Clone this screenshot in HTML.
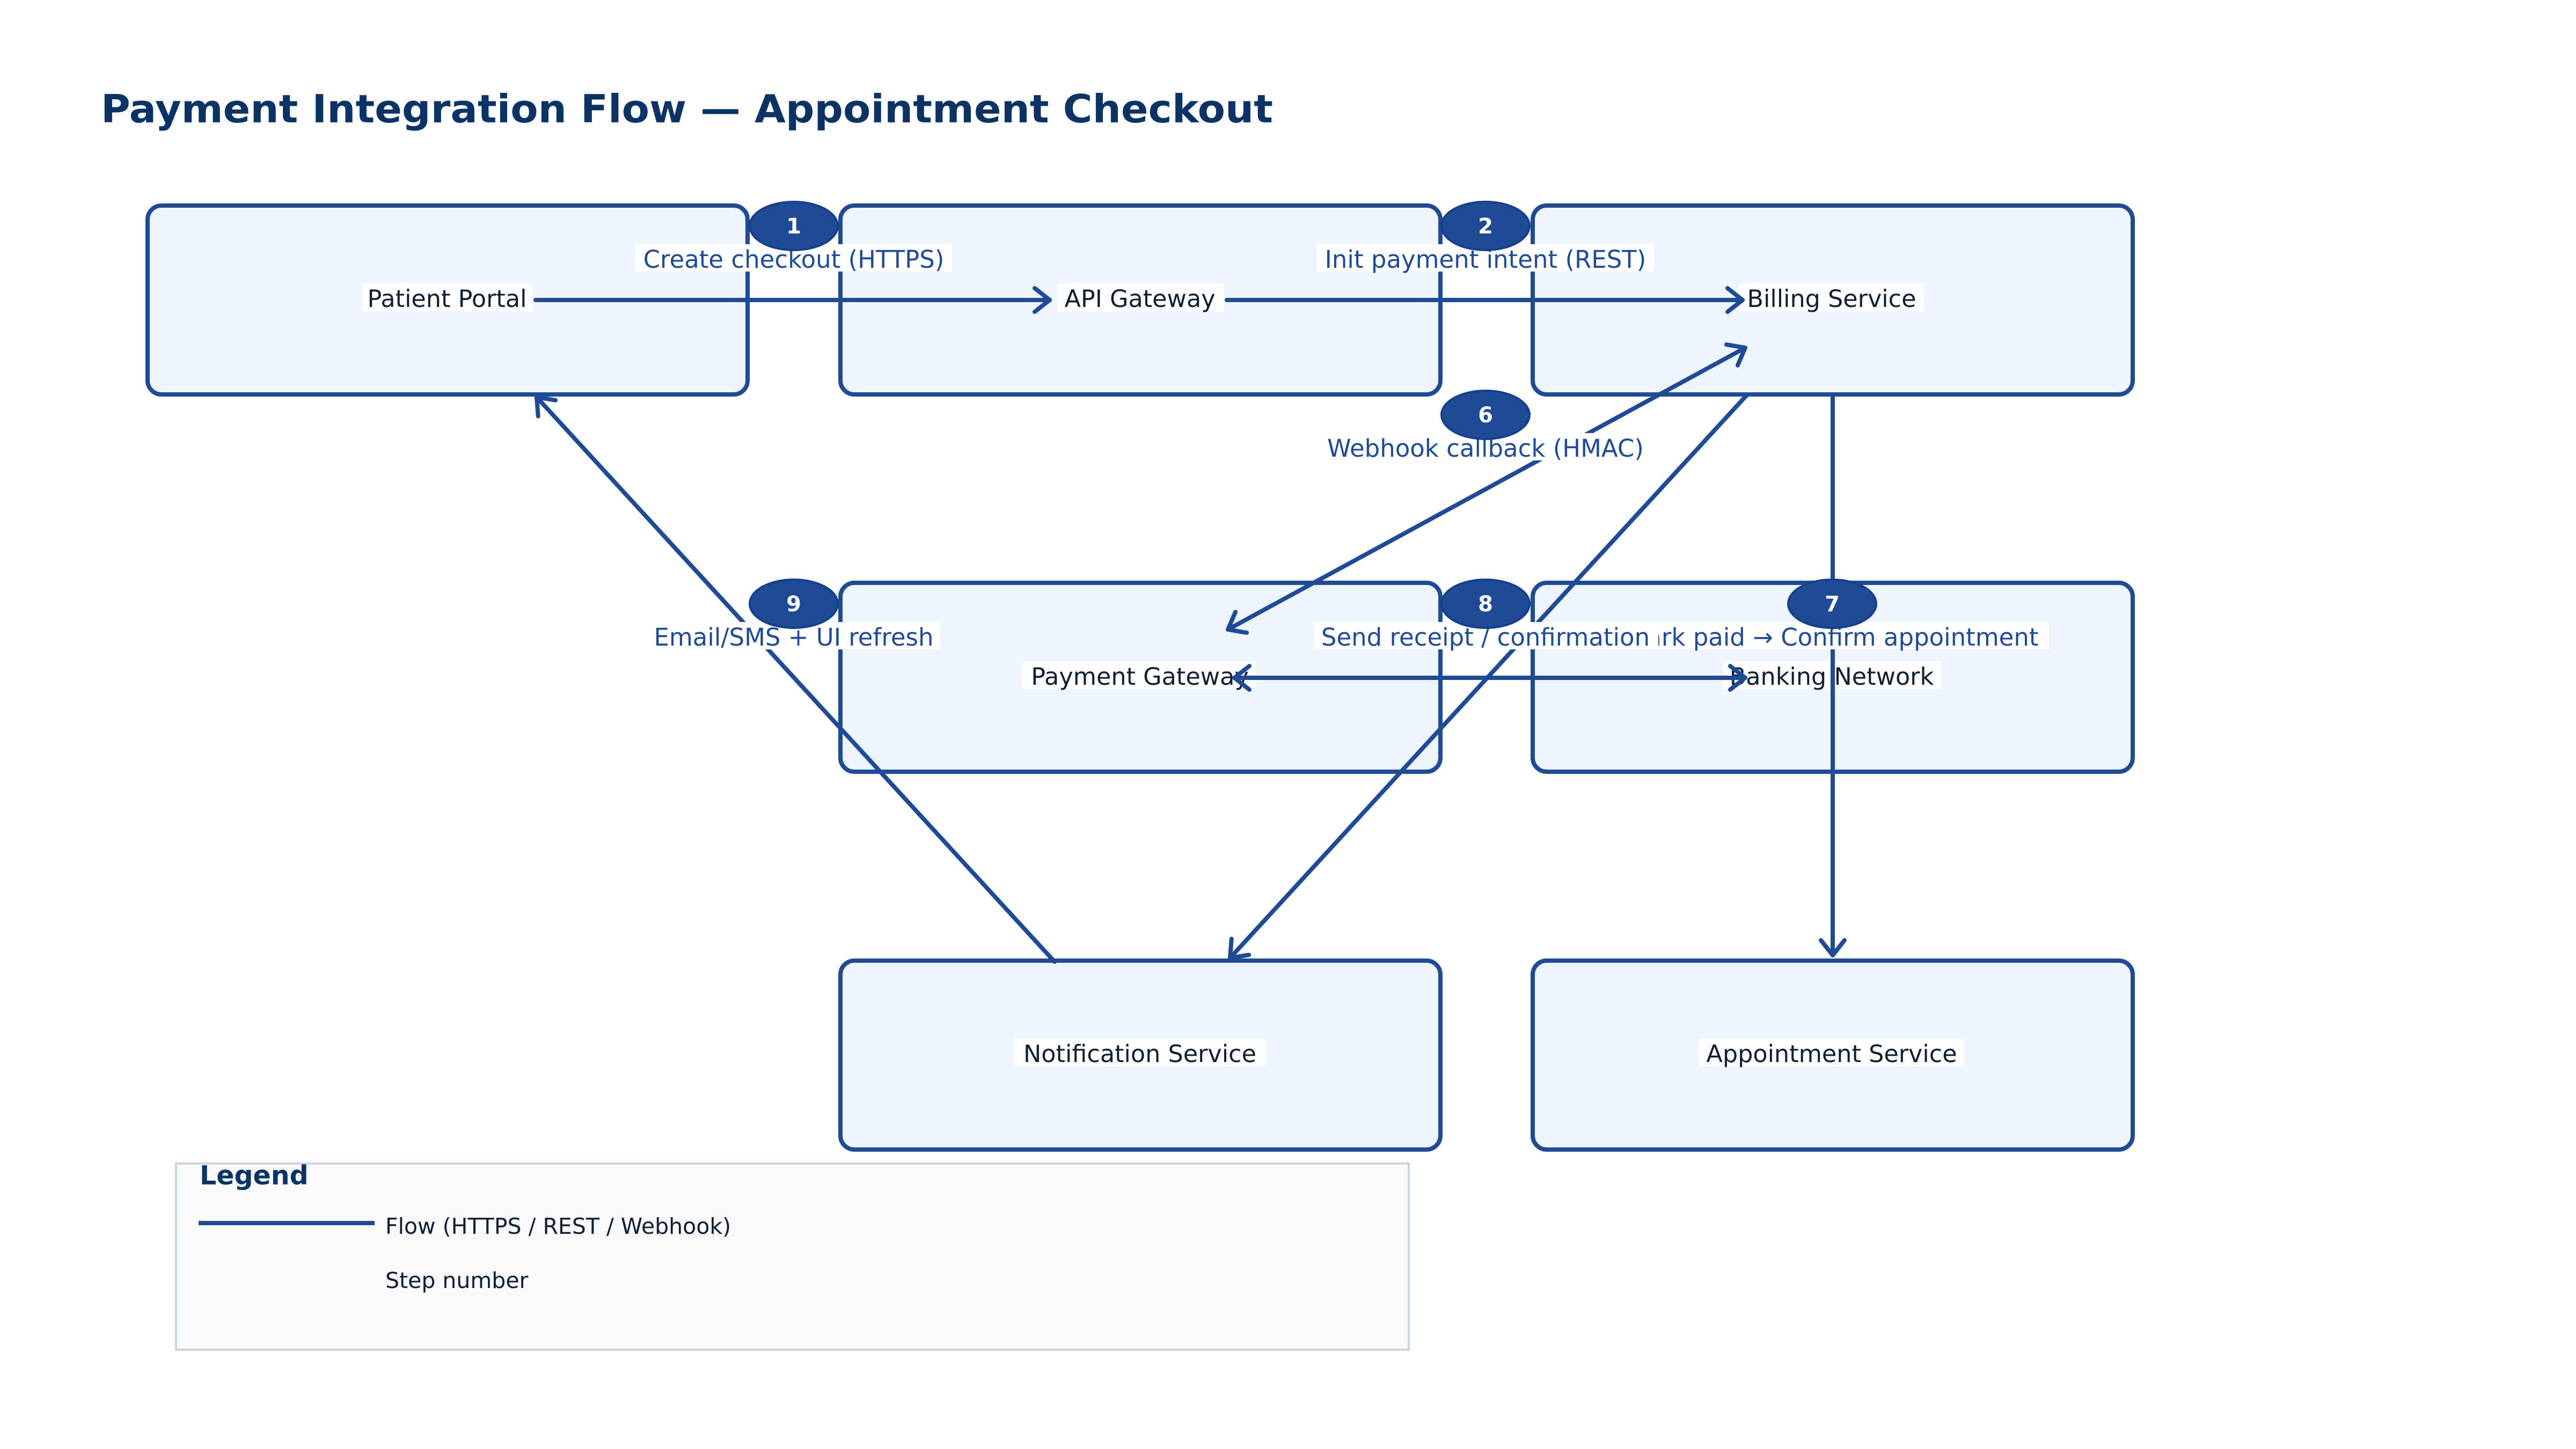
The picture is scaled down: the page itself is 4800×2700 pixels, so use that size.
<!DOCTYPE html>
<html><head><meta charset="utf-8"><style>
html,body{margin:0;padding:0;background:#fff}
svg{display:block}
text{font-family:"DejaVu Sans","Liberation Sans",sans-serif}
</style></head><body>
<svg width="4800" height="2700" viewBox="0 0 4800 2700" xmlns="http://www.w3.org/2000/svg">
<defs>
<marker id="ah" markerUnits="userSpaceOnUse" markerWidth="80" markerHeight="80" refX="40" refY="40" orient="auto">
<path d="M12,18 L40,40 L12,62" fill="none" stroke="#1f4a96" stroke-width="8" stroke-linecap="round" stroke-linejoin="round"/>
</marker>
<marker id="as" markerUnits="userSpaceOnUse" markerWidth="80" markerHeight="80" refX="40" refY="40" orient="auto-start-reverse">
<path d="M12,18 L40,40 L12,62" fill="none" stroke="#1f4a96" stroke-width="8" stroke-linecap="round" stroke-linejoin="round"/>
</marker>
</defs>
<rect width="4800" height="2700" fill="#fff"/>
<text x="188" y="228" font-size="72" font-weight="bold" fill="#0b3366" textLength="2184" lengthAdjust="spacingAndGlyphs">Payment Integration Flow — Appointment Checkout</text>

<g fill="#eef5fe" stroke="#1f4a96" stroke-width="8">
<rect x="275" y="383" width="1118" height="352" rx="26"/>
<rect x="1566" y="383" width="1118" height="352" rx="26"/>
<rect x="2856" y="383" width="1118" height="352" rx="26"/>
<rect x="1566" y="1086" width="1118" height="352" rx="26"/>
<rect x="2856" y="1086" width="1118" height="352" rx="26"/>
<rect x="1566" y="1790" width="1118" height="352" rx="26"/>
<rect x="2856" y="1790" width="1118" height="352" rx="26"/>
</g>

<g font-size="44.5" fill="#0f1f33" text-anchor="middle">
<rect x="675" y="528" width="318" height="52" fill="#fff"/>
<text x="833" y="572">Patient Portal</text>
<rect x="1970" y="528" width="310" height="52" fill="#fff"/>
<text x="2124" y="572">API Gateway</text>
<rect x="3240" y="528" width="345" height="52" fill="#fff"/>
<text x="3413" y="572">Billing Service</text>
<rect x="1905" y="1232" width="435" height="52" fill="#fff"/>
<text x="2124" y="1276">Payment Gateway</text>
<rect x="3210" y="1232" width="408" height="52" fill="#fff"/>
<text x="3413" y="1276">Banking Network</text>
<rect x="1890" y="1935" width="470" height="52" fill="#fff"/>
<text x="2124" y="1979">Notification Service</text>
<rect x="3165" y="1935" width="495" height="52" fill="#fff"/>
<text x="3413" y="1979">Appointment Service</text>
</g>

<g stroke="#1f4a96" stroke-width="8" fill="none" stroke-linecap="round">
<line x1="998" y1="559" x2="1956" y2="559" marker-end="url(#ah)"/>
<line x1="2286" y1="559" x2="3247" y2="559" marker-end="url(#ah)"/>
<line x1="2288" y1="1173" x2="3252" y2="648" marker-start="url(#as)" marker-end="url(#as)"/>
<line x1="3256" y1="735" x2="2292" y2="1785" marker-end="url(#ah)"/>
<line x1="2300" y1="1263" x2="3252" y2="1263" marker-start="url(#as)" marker-end="url(#as)"/>
<line x1="3415" y1="738" x2="3415" y2="1780" marker-end="url(#ah)"/>
<line x1="1965" y1="1792" x2="1000" y2="740" marker-end="url(#ah)"/>
</g>

<g font-size="45" fill="#1f4a96" text-anchor="middle">
<rect x="1184" y="455" width="590" height="51" fill="#fff"/>
<text x="1479" y="499">Create checkout (HTTPS)</text>
<rect x="2454" y="455" width="628" height="51" fill="#fff"/>
<text x="2768" y="499">Init payment intent (REST)</text>
<rect x="2456" y="807" width="625" height="51" fill="#fff"/>
<text x="2768" y="851">Webhook callback (HMAC)</text>
<rect x="1206" y="1159" width="546" height="51" fill="#fff"/>
<text x="1479" y="1203">Email/SMS + UI refresh</text>
<rect x="3010" y="1159" width="808" height="51" fill="#fff"/>
<text x="3414" y="1203">Mark paid → Confirm appointment</text>
<rect x="2448" y="1159" width="642" height="51" fill="#fff"/>
<text x="2768" y="1203">Send receipt / confirmation</text>
</g>

<g fill="#1f4a96" stroke="#153f8c" stroke-width="4">
<ellipse cx="1479" cy="421" rx="82" ry="45"/>
<ellipse cx="2768" cy="421" rx="82" ry="45"/>
<ellipse cx="2768" cy="773" rx="82" ry="45"/>
<ellipse cx="1479" cy="1125" rx="82" ry="45"/>
<ellipse cx="2768" cy="1125" rx="82" ry="45"/>
<ellipse cx="3414" cy="1125" rx="82" ry="45"/>
</g>
<g font-size="40" font-weight="bold" fill="#fff" text-anchor="middle">
<text x="1479" y="435">1</text>
<text x="2768" y="435">2</text>
<text x="2768" y="787">6</text>
<text x="1479" y="1139">9</text>
<text x="2768" y="1139">8</text>
<text x="3414" y="1139">7</text>
</g>

<rect x="328" y="2168" width="2297" height="347" fill="#f7f9fb" stroke="#d0d4dc" stroke-width="4"/>
<text x="372" y="2207" font-size="49" font-weight="bold" fill="#0b3366">Legend</text>
<line x1="370" y1="2279" x2="698" y2="2279" stroke="#1f4a96" stroke-width="8"/>
<text x="718" y="2299" font-size="41" fill="#0f1f33">Flow (HTTPS / REST / Webhook)</text>
<text x="718" y="2400" font-size="41" fill="#0f1f33">Step number</text>
</svg>
</body></html>
